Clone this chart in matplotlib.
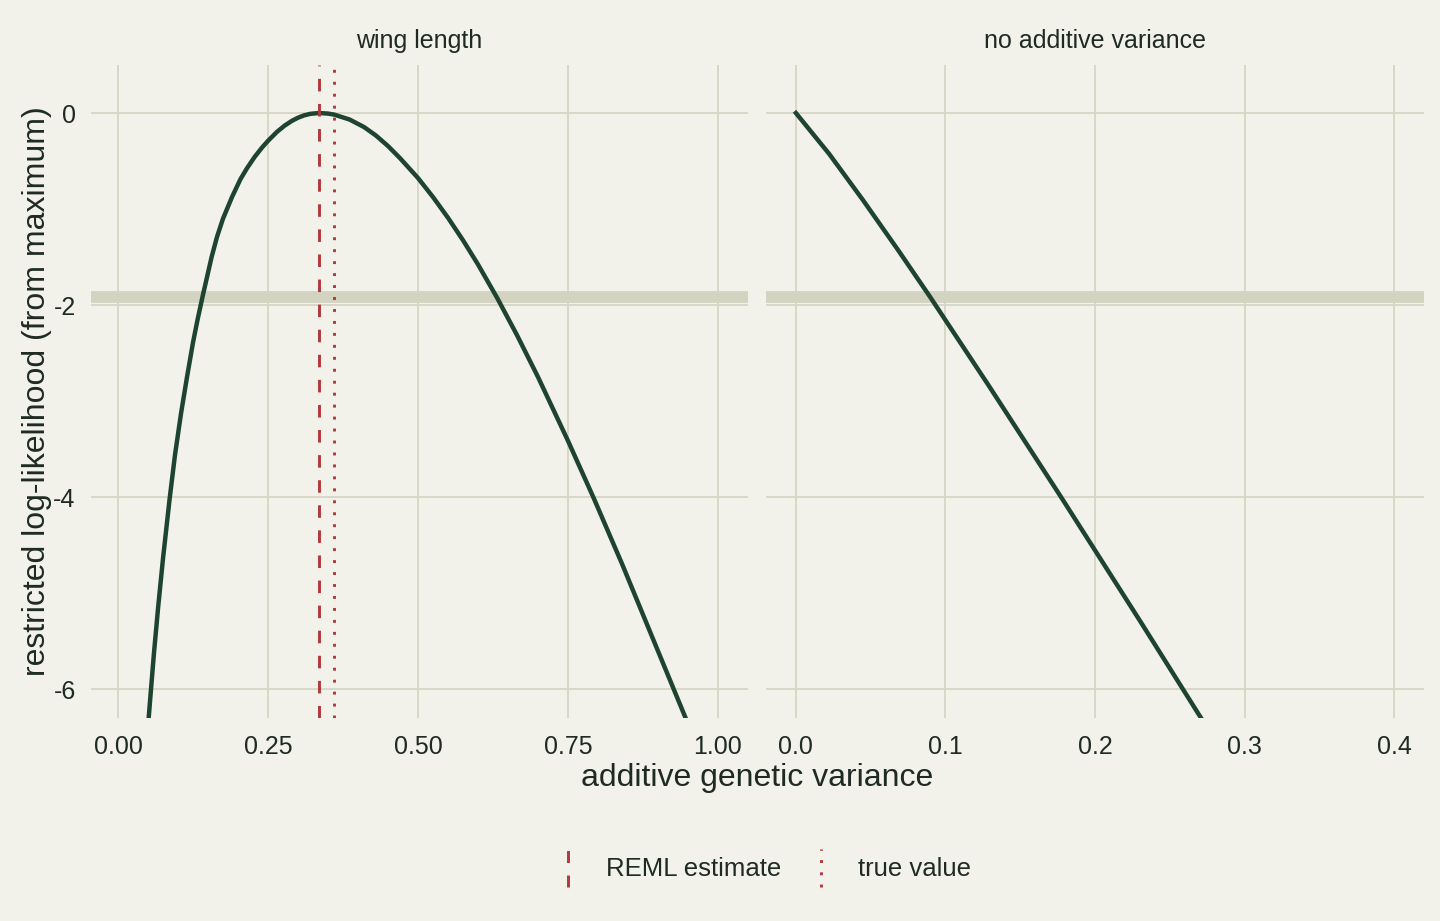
import matplotlib.pyplot as plt
from matplotlib.lines import Line2D
from matplotlib.legend_handler import HandlerBase

# profile of the restricted log-likelihood
wing_va = [0.051, 0.055, 0.060, 0.067, 0.075, 0.086, 0.095, 0.105, 0.115, 0.125,
           0.133, 0.141, 0.156, 0.165, 0.175, 0.190, 0.204, 0.215, 0.228, 0.240,
           0.250, 0.265, 0.278, 0.290, 0.300, 0.310, 0.320, 0.335, 0.350, 0.360,
           0.386, 0.410, 0.430, 0.450, 0.470, 0.500, 0.525, 0.550, 0.575, 0.600,
           0.632, 0.665, 0.700, 0.750, 0.793, 0.840, 0.895, 0.948]
wing_ll = [-6.31, -6.00, -5.62, -5.14, -4.64, -4.02, -3.56, -3.13, -2.75, -2.39,
           -2.14, -1.91, -1.50, -1.29, -1.10, -0.875, -0.69, -0.575, -0.455, -0.36,
           -0.29, -0.196, -0.13, -0.081, -0.049, -0.025, -0.009, 0.0, -0.006, -0.016,
           -0.068, -0.146, -0.235, -0.344, -0.47, -0.677, -0.875, -1.091, -1.325, -1.577,
           -1.926, -2.313, -2.749, -3.414, -4.012, -4.694, -5.527, -6.33]

noadd_va = [0.0, 0.0223, 0.0449, 0.0685, 0.0896, 0.1287, 0.1775, 0.2306, 0.2713]
noadd_ll = [0.0, -0.427, -0.908, -1.431, -1.912, -2.833, -4.004, -5.301, -6.31]

panel_titles = ["wing length", "no additive variance"]
reml_estimate = 0.335
true_value = 0.36
ci_cutoff = -1.92

bg = "#f2f2eb"
grid_col = "#d6d6c6"
band_col = "#d3d3c1"
curve_col = "#1e4330"
red = "#b0393b"
text_col = "#1f2a24"

plt.rcParams["font.family"] = ["Liberation Sans", "DejaVu Sans"]

fig = plt.figure(figsize=(14.4, 9.21), dpi=100, facecolor=bg)
W, H = 1440, 921

def add_panel(x0, x1, y0=65, y1=718):
    return fig.add_axes([x0 / W, 1 - y1 / H, (x1 - x0) / W, (y1 - y0) / H])

ax1 = add_panel(91, 748)
ax2 = add_panel(766, 1424)

for ax in (ax1, ax2):
    ax.set_facecolor(bg)
    for s in ax.spines.values():
        s.set_visible(False)
    ax.grid(True, color=grid_col, linewidth=1.3)
    ax.set_axisbelow(True)
    ax.tick_params(length=0, labelsize=18, labelcolor=text_col)
    ax.tick_params(axis="x", pad=12)
    ax.tick_params(axis="y", pad=11)
    ax.set_ylim(-6.3, 0.5)
    ax.set_yticks([0, -2, -4, -6])
    ax.axhline(ci_cutoff, color=band_col, linewidth=8.5, zorder=1.5)

ax1.plot(wing_va, wing_ll, color=curve_col, linewidth=3.2, zorder=3,
         solid_joinstyle="round")
ax1.axvline(reml_estimate, color=red, linewidth=2.1, dashes=(4.3, 4.3), zorder=4)
ax1.axvline(true_value, color=red, linewidth=2.1, dashes=(1, 3.1), zorder=4)
ax1.set_xlim(-0.045, 1.05)
ax1.set_xticks([0, 0.25, 0.5, 0.75, 1.0])
ax1.set_xticklabels(["0.00", "0.25", "0.50", "0.75", "1.00"])
ax1.set_yticklabels(["0", "-2", "-4", "-6"])

ax2.plot(noadd_va, noadd_ll, color=curve_col, linewidth=3.2, zorder=3,
         solid_joinstyle="round")
ax2.set_xlim(-0.02, 0.42)
ax2.set_xticks([0, 0.1, 0.2, 0.3, 0.4])
ax2.set_xticklabels(["0.0", "0.1", "0.2", "0.3", "0.4"])
ax2.set_yticklabels([])

for ax, title in zip((ax1, ax2), panel_titles):
    ax.set_title(title, fontsize=18, color=text_col, pad=12)

ax1.set_ylabel("restricted log-likelihood (from maximum)", fontsize=23,
               color=text_col, labelpad=1)
fig.text(757.5 / W, 1 - 778 / H, "additive genetic variance", fontsize=23,
         color=text_col, ha="center", va="center")


class VLineHandler(HandlerBase):
    # legend key drawn as a short vertical line, like ggplot's vline keys
    def create_artists(self, legend, orig_handle, xdescent, ydescent,
                       width, height, fontsize, trans):
        x = width / 2 - xdescent
        ln = Line2D([x, x], [-ydescent, height - ydescent],
                    color=orig_handle.get_color(),
                    linewidth=orig_handle.get_linewidth(),
                    dash_capstyle="butt")
        ln.set_dashes(orig_handle.key_dashes)
        ln.set_transform(trans)
        return [ln]


h1 = Line2D([], [], color=red, linewidth=2.1, label="REML estimate")
h1.key_dashes = (4.1, 4.3)
h2 = Line2D([], [], color=red, linewidth=2.1, label="true value")
h2.key_dashes = (1, 3.2)
leg = fig.legend(handles=[h1, h2], loc="center", bbox_to_anchor=(762 / W, 1 - 868 / H),
                 ncol=2, frameon=False, fontsize=18.5, labelcolor=text_col,
                 handler_map={Line2D: VLineHandler()},
                 handlelength=1.2, handleheight=1.85, handletextpad=0.85,
                 columnspacing=0.95)

fig.savefig("out.png", dpi=100, facecolor=bg)
